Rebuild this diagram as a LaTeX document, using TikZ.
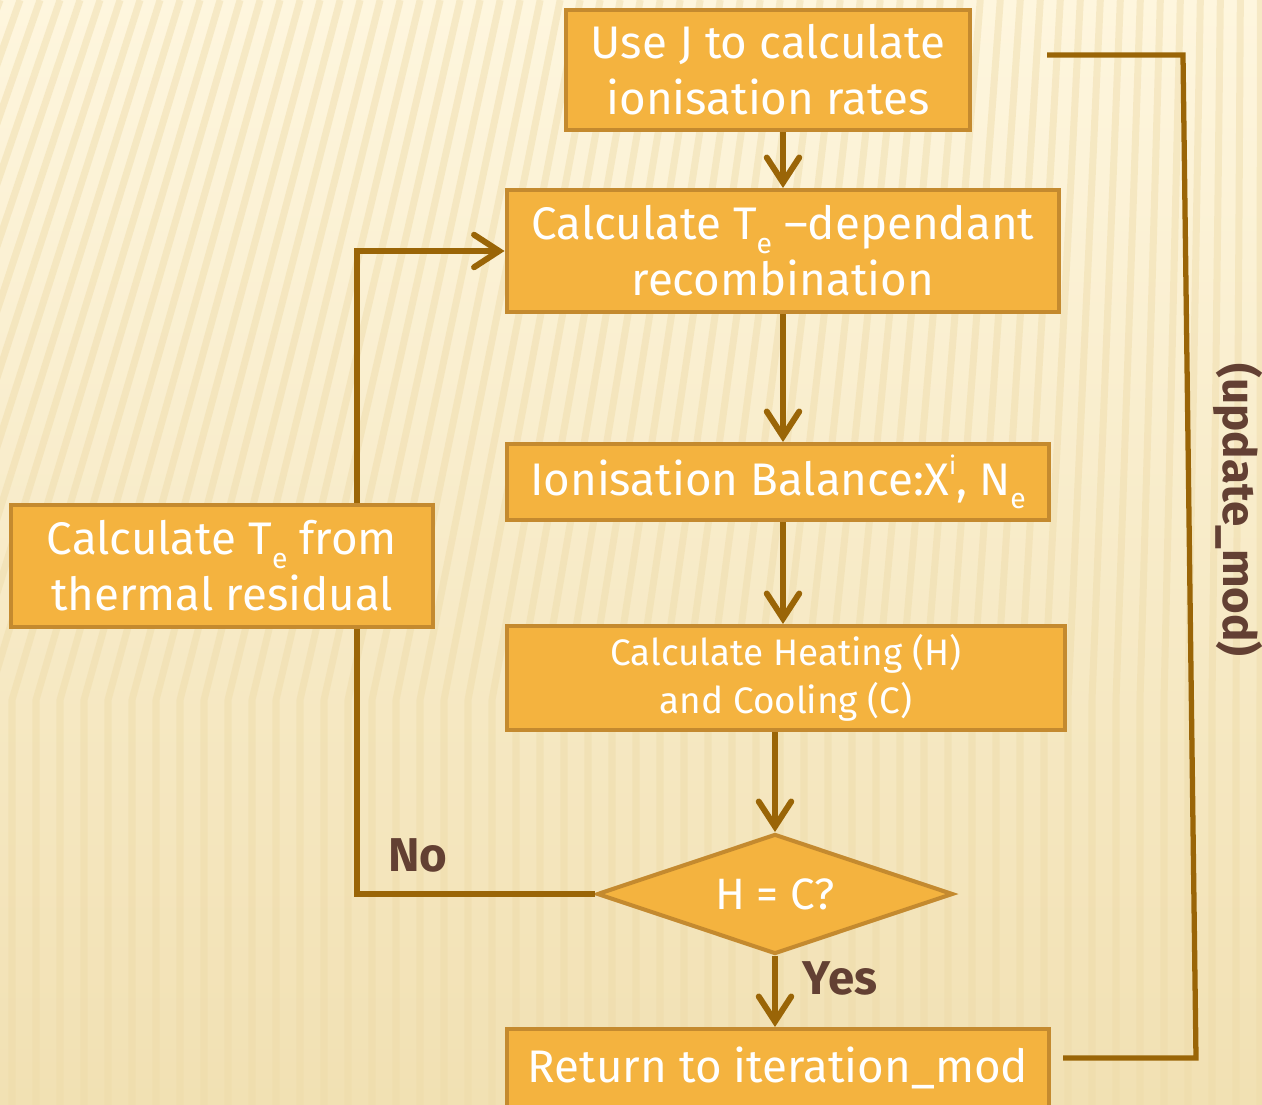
\documentclass[tikz,border=0pt]{standalone}
\usepackage{fontspec}
\setmainfont{Fira Sans}
\usetikzlibrary{positioning,shapes.geometric,arrows.meta}
\definecolor{boxfill}{HTML}{F4B33F}
\definecolor{boxline}{HTML}{C48A2F}
\definecolor{flowbrown}{HTML}{9A6507}
\definecolor{labelbrown}{HTML}{634033}
\definecolor{paperlight}{HTML}{FEF6DE}
\definecolor{paperdark}{HTML}{EEDBA8}
\newcommand{\lowidx}[1]{\raisebox{-0.3em}{\scalebox{0.62}{#1}}}
\newcommand{\highidx}[1]{\raisebox{0.45em}{\scalebox{0.55}{#1}}}
\tikzset{
  procbox/.style={draw=boxline, fill=boxfill, line width=2.3pt, text=white,
    align=center, inner sep=0pt, font=\fontsize{26}{32}\selectfont},
  flowarrow/.style={draw=flowbrown, line width=3.4pt,
    -{Straight Barb[length=5mm, width=6.5mm, line cap=round]}},
  linkline/.style={draw=flowbrown, line width=3.4pt},
  branchlabel/.style={text=labelbrown, font=\fontsize{27}{32}\selectfont\bfseries},
  stripe/.style={draw=paperdark, line width=4pt, opacity=0.45}
}
\begin{document}
\begin{tikzpicture}[x=0.02cm, y=-0.02cm]
    % paper background
    \fill[top color=paperlight, bottom color=paperdark!80!paperlight] (0,0) rectangle (1262,1105);
    \useasboundingbox (0,0) rectangle (1262,1105);
    \foreach \sx in {-300,-276,...,1262}
        \draw[stripe] ({\sx},1105) -- ({\sx},700) -- ({\sx+260*(1-(\sx+300)/1562)},0);

    % process boxes
    \node[procbox, minimum width=8.08cm, minimum height=2.4cm] (usej) at (768,70)
        {Use J to calculate\\ionisation rates};
    \node[procbox, minimum width=11.06cm, minimum height=2.44cm] (recomb) at (783,251)
        {Calculate T\lowidx{e} –dependant\\recombination};
    \node[procbox, minimum width=10.86cm, minimum height=1.52cm] (balance) at (778,482)
        {Ionisation Balance:X\highidx{i}, N\lowidx{e}};
    \node[procbox, minimum width=11.18cm, minimum height=2.08cm,
        font=\fontsize{21}{27}\selectfont] (heatcool) at (786,678)
        {Calculate Heating (H)\\and Cooling (C)};
    \node[procbox, diamond, shape aspect=2.97, minimum width=7.12cm, minimum height=2.4cm,
        font=\fontsize{25}{30}\selectfont] (decide) at (775,894) {H = C?};
    \node[procbox, minimum width=10.86cm, minimum height=1.56cm] (returnbox) at (778,1068)
        {Return to iteration\_mod};
    \node[procbox, minimum width=8.46cm, minimum height=2.44cm] (tresid) at (222,566)
        {Calculate T\lowidx{e} from\\thermal residual};

    % main chain
    \draw[flowarrow] (recomb.north |- usej.south) -- (recomb.north);
    \draw[flowarrow] (recomb.south) -- (recomb.south |- balance.north);
    \draw[flowarrow] (recomb.south |- balance.south) -- (recomb.south |- heatcool.north);
    \draw[flowarrow] (decide.north |- heatcool.south) -- (decide.north);
    \draw[flowarrow] (decide.south) -- (decide.south |- returnbox.north);
    \node[branchlabel] (yeslabel) at (840,978) {Yes};

    % temperature loop
    \coordinate (loopx) at (357,0);
    \draw[linkline] (decide.west) -- (decide.west -| loopx) -- (loopx |- tresid.south);
    \draw[flowarrow] (loopx |- tresid.north) |- (recomb.west);
    \node[branchlabel] (nolabel) at (418,855) {No};

    % outer update loop
    \coordinate (fbtop) at (1047,55);
    \coordinate (fbturntop) at (1183,55);
    \coordinate (fbturnbot) at (1196,1058);
    \coordinate (fbbot) at (1063,1058);
    \draw[linkline, line width=3pt] (fbtop) -- (fbturntop) -- (fbturnbot) -- (fbbot);
    \node[branchlabel, rotate=-90, font=\fontsize{26}{30}\selectfont\bfseries] (updlabel)
        at (1238,510) {(update\_mod)};
\end{tikzpicture}
\end{document}
